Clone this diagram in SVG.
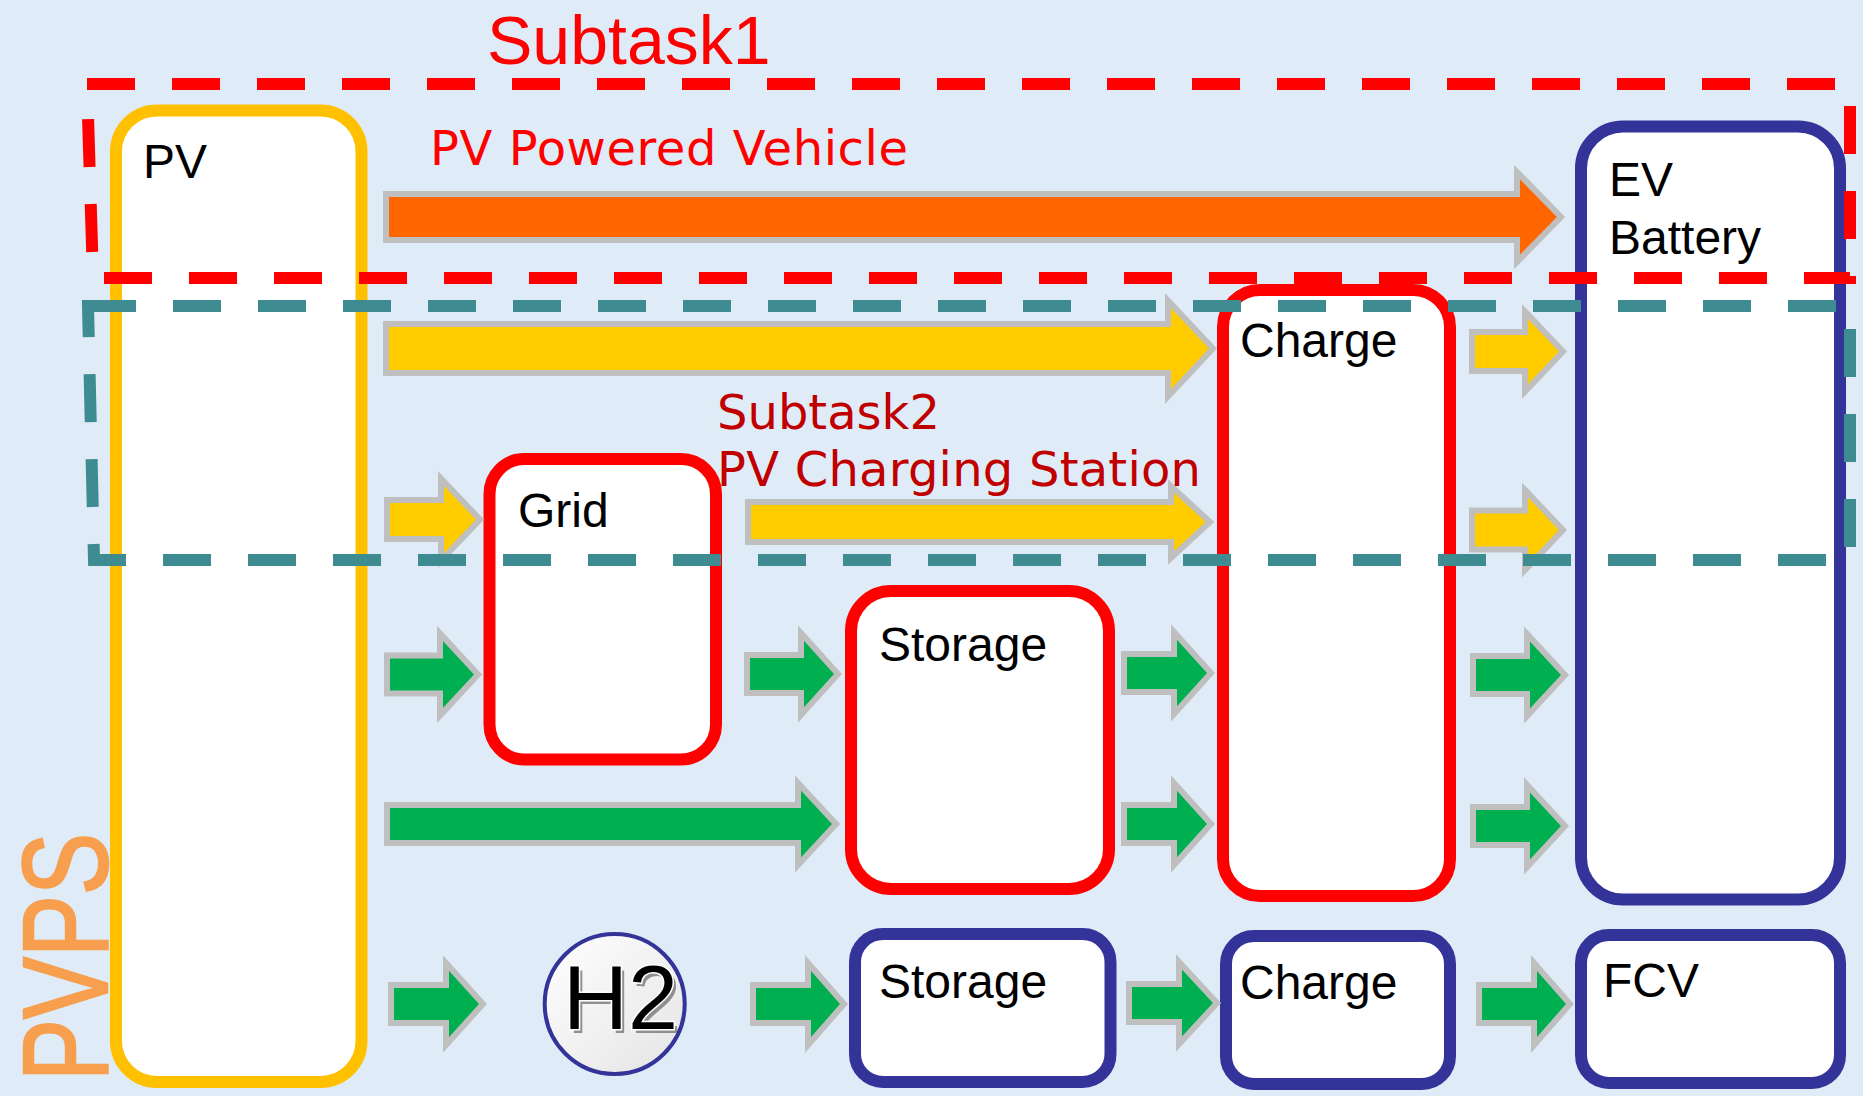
<svg xmlns="http://www.w3.org/2000/svg" width="1863" height="1096" viewBox="0 0 1863 1096">
<style>
.box{fill:#FFFFFF;stroke-width:12}
.pv{stroke:#FFC000}
.red{stroke:#FF0000}
.blue{stroke:#333399}
.lbl{font-family:"Liberation Sans",Arial,sans-serif;font-size:48px;fill:#000000}
.arr{stroke:#BFBFBF;stroke-width:6;stroke-linejoin:miter}
.orange{fill:#FF6600}
.yellow{fill:#FFCC00}
.green{fill:#00B050}
.dash{fill:none;stroke-width:12;stroke-dasharray:48 37}
.tag{font-family:"DejaVu Sans",Verdana,sans-serif;font-size:48px}
</style>
<defs>
<linearGradient id="h2g" x1="0" y1="0" x2="1" y2="1">
<stop offset="0" stop-color="#FFFFFF"/>
<stop offset="1" stop-color="#E4E4E4"/>
</linearGradient>
</defs>
<rect x="0" y="0" width="1863" height="1096" fill="#DFECF7"/>

<g id="pv">
<rect class="box pv" x="116" y="110.5" width="245.5" height="971.5" rx="41"/>
<text class="lbl" x="143" y="178">PV</text>
</g>
<g id="grid">
<rect class="box red" x="489.5" y="459" width="226.5" height="300.5" rx="35"/>
<text class="lbl" x="518" y="526.5">Grid</text>
</g>
<g id="storage1">
<rect class="box red" x="851" y="591" width="258" height="298" rx="40"/>
<text class="lbl" x="879" y="661">Storage</text>
</g>
<g id="charge1">
<rect class="box red" x="1223" y="290" width="227" height="606" rx="37"/>
<text class="lbl" x="1240" y="357">Charge</text>
</g>
<g id="ev">
<rect class="box blue" x="1581" y="126.5" width="259" height="773" rx="42"/>
<text class="lbl" x="1609" y="196">EV</text>
<text class="lbl" x="1609" y="254">Battery</text>
</g>
<g id="h2">
<circle cx="614.7" cy="1004" r="70" fill="url(#h2g)" stroke="#333399" stroke-width="4"/>
<text x="566.5" y="1032.5" font-family="Liberation Sans,Arial,sans-serif" font-size="90" fill="#7F7F7F" opacity="0.85">H2</text>
<text x="563" y="1029" font-family="Liberation Sans,Arial,sans-serif" font-size="90" fill="#000000" stroke="#FFFFFF" stroke-width="3" paint-order="stroke">H2</text>
</g>
<g id="storage2">
<rect class="box blue" x="855" y="934" width="255.5" height="148" rx="28"/>
<text class="lbl" x="879" y="997.5">Storage</text>
</g>
<g id="charge2">
<rect class="box blue" x="1226" y="936" width="224" height="148" rx="28"/>
<text class="lbl" x="1240" y="999">Charge</text>
</g>
<g id="fcv">
<rect class="box blue" x="1581" y="935" width="259" height="148" rx="28"/>
<text class="lbl" x="1603" y="997">FCV</text>
</g>

<g id="connectors">
<path class="arr orange" d="M386,194 H1517 V172 L1561,217 L1517,262 V240 H386 Z"/>
<path class="arr yellow" d="M386,324 H1168 V300.5 L1213,348.5 L1168,396.5 V373 H386 Z"/>
<path class="arr yellow" d="M1472,332 H1525 V311.5 L1563,351.5 L1525,391.5 V371 H1472 Z"/>
<path class="arr yellow" d="M387,500 H441 V478.5 L480,519.5 L441,560.5 V539 H387 Z"/>
<path class="arr yellow" d="M748,502 H1171 V486 L1210,522 L1171,558 V542 H748 Z"/>
<path class="arr yellow" d="M1472,510.5 H1525 V490 L1563,530 L1525,570 V549.5 H1472 Z"/>
<path class="arr green" d="M387,655.5 H440 V633.5 L478,674.5 L440,715.5 V693.5 H387 Z"/>
<path class="arr green" d="M747,655 H801 V633 L838,674 L801,715 V693 H747 Z"/>
<path class="arr green" d="M1124,654 H1174 V632 L1211,673 L1174,714 V692 H1124 Z"/>
<path class="arr green" d="M1473,656 H1527 V634 L1565,675 L1527,716 V694 H1473 Z"/>
<path class="arr green" d="M387,805 H798 V783 L836,824 L798,865 V843 H387 Z"/>
<path class="arr green" d="M1124,805 H1174 V783 L1211,824 L1174,865 V843 H1124 Z"/>
<path class="arr green" d="M1473,807 H1527 V785 L1565,826 L1527,867 V845 H1473 Z"/>
<path class="arr green" d="M391,985 H446 V963 L483,1004 L446,1045 V1023 H391 Z"/>
<path class="arr green" d="M753,985 H808 V963 L844,1004 L808,1045 V1023 H753 Z"/>
<path class="arr green" d="M1129,984 H1179 V962 L1217,1003 L1179,1044 V1022 H1129 Z"/>
<path class="arr green" d="M1479,985 H1534 V963 L1570,1004 L1534,1045 V1023 H1479 Z"/>
</g>

<g id="labels">
<text x="487" y="64" font-family="Liberation Sans,Arial,sans-serif" font-size="68" fill="#FF0000">Subtask1</text>
<text class="tag" x="430" y="165" fill="#FF0000" textLength="478">PV Powered Vehicle</text>
<text class="tag" x="717" y="429" fill="#C00000">Subtask2</text>
<text class="tag" x="717" y="486" fill="#C00000" textLength="484">PV Charging Station</text>
<text transform="translate(107,1081) rotate(-90)" font-family="Liberation Sans,Arial,sans-serif" font-size="120" fill="#F79F4E" stroke="#F79F4E" stroke-width="2.5" textLength="248" lengthAdjust="spacingAndGlyphs">PVPS</text>
</g>

<g id="subtask1">
<path class="dash" stroke="#FF0000" d="M87,84 H1850 V278 H93 Z"/>
</g>
<g id="subtask2">
<path class="dash" stroke="#3E8C91" d="M88,306 H1850 V560 H94 Z"/>
</g>
</svg>
